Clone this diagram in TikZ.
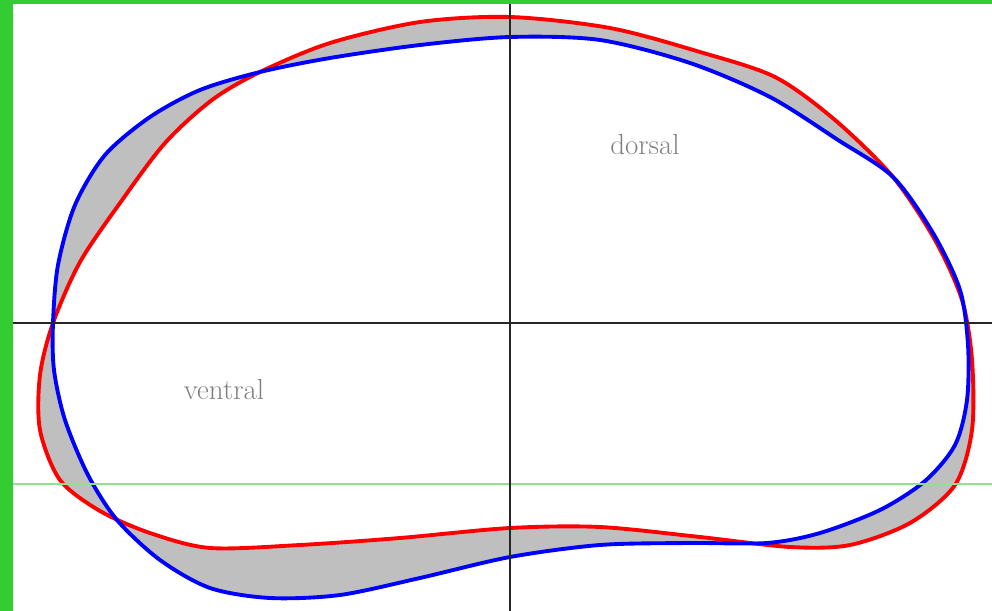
\documentclass[tikz,border=0pt]{standalone}
\usepackage{xcolor}
\usepackage{tikz}

\definecolor{framegreen}{RGB}{51,204,51}
\definecolor{guidegreen}{RGB}{144,226,144}

% outlines in pixel units of the sketch
\newcommand{\redoutline}{plot[smooth cycle] coordinates {
    (510,17) (610,28) (700,52) (775,77) (835,120) (893,177) (935,240)
    (962,300) (972,360) (972,430) (955,485) (910,523) (850,545) (790,547)
    (700,537) (600,527) (510,528) (400,538) (300,545) (210,548) (150,533)
    (100,511) (60,480) (40,430) (40,375) (53,323) (80,262) (120,203)
    (165,143) (212,100) (260,72) (330,43) (420,22)
  }}
\newcommand{\blueoutline}{plot[smooth cycle] coordinates {
    (510,37) (600,40) (690,63) (770,97) (838,140) (893,177) (933,233)
    (960,290) (968,345) (967,400) (955,445) (925,481) (880,510) (820,533)
    (767,543) (690,543) (600,545) (510,557) (420,578) (340,595) (270,598)
    (210,588) (160,560) (117,520) (88,475) (65,420) (54,370) (53,323)
    (58,265) (75,205) (105,155) (150,117) (200,90) (260,72) (330,58)
    (420,45)
  }}

\begin{document}
\begin{tikzpicture}[
    x=0.02cm, y=-0.02cm,
    every node/.style={font=\fontsize{16.5}{20}\selectfont, text=black!50},
    redline/.style={line width=2.2pt, red},
    blueline/.style={line width=2.2pt, blue},
    axisline/.style={line width=0.6pt, black!85},
  ]
  \useasboundingbox (0,0) rectangle (992,611);

  % Green frame
  \fill[framegreen] (0,0) rectangle (992,4);
  \fill[framegreen] (0,0) rectangle (13,611);

  % Area between the two outlines
  \fill[black!25, even odd rule] \redoutline \blueoutline;

  % Outlines
  \draw[redline] \redoutline;
  \draw[blueline] \blueoutline;

  % Axes and guide line
  \draw[guidegreen, line width=0.6pt] (13,484) -- (992,484);
  \draw[axisline] (13,323) -- (992,323);
  \draw[axisline] (510,4) -- (510,611);

  % Labels
  \node (dorsal) at (645,145) {dorsal};
  \node (ventral) at (224,390) {ventral};
\end{tikzpicture}
\end{document}
